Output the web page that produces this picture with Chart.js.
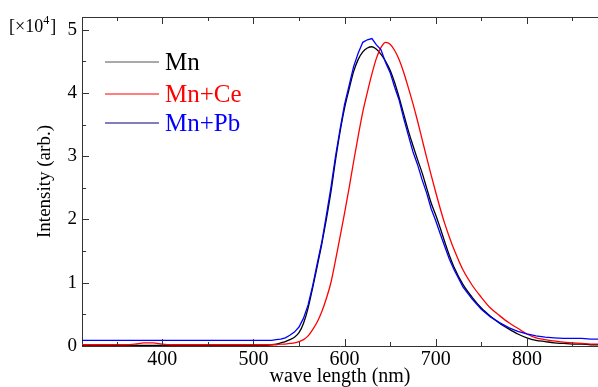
<!DOCTYPE html>
<html>
<head>
<meta charset="utf-8">
<script src="https://cdn.jsdelivr.net/npm/chart.js@4.4.1/dist/chart.umd.min.js"></script>
<style>
  body { margin: 0; background: #fff; }
  #chart { display: block; }
</style>
</head>
<body>
<canvas id="chart" width="598" height="387"></canvas>
<script>
// wave length (nm)
const wavelength = [
    310, 320, 330, 340, 350, 360, 370, 380, 390, 400, 410, 420, 430, 440, 450, 460, 470, 480, 490, 500, 510, 520,
    525, 530, 535, 540, 545, 550, 555, 560, 565, 570, 575, 580, 585, 590, 595, 600, 605, 610, 615, 620,
    625, 630, 635, 640, 645, 650, 655, 660, 665, 670, 675, 680, 685, 690, 695, 700, 705, 710, 715, 720,
    730, 740, 750, 760, 770, 780, 790, 800, 810, 820, 830, 840, 850, 860, 870, 880
];

// intensity, x10^4
const mn = [
    0.01, 0.01, 0.01, 0.01, 0.01, 0.01, 0.01, 0.01, 0.01, 0.01, 0.01, 0.01, 0.01, 0.01, 0.01, 0.01, 0.01, 0.01, 0.01, 0.01, 0.01, 0.02,
    0.03, 0.05, 0.07, 0.10, 0.14, 0.21, 0.36, 0.60, 0.92, 1.26, 1.61, 2.00, 2.43, 2.93, 3.38, 3.76, 4.06, 4.34, 4.53, 4.65,
    4.71, 4.73, 4.69, 4.61, 4.50, 4.36, 4.16, 3.92, 3.66, 3.40, 3.17, 2.95, 2.74, 2.50, 2.26, 2.07, 1.86, 1.64, 1.43, 1.25,
    0.97, 0.77, 0.60, 0.47, 0.36, 0.27, 0.19, 0.13, 0.09, 0.07, 0.05, 0.04, 0.03, 0.03, 0.02, 0.02
];

const mnCe = [
    0.02, 0.02, 0.02, 0.02, 0.02, 0.02, 0.03, 0.05, 0.05, 0.03, 0.02, 0.02, 0.02, 0.02, 0.02, 0.02, 0.02, 0.02, 0.02, 0.02, 0.02, 0.02,
    0.02, 0.03, 0.03, 0.04, 0.05, 0.07, 0.10, 0.16, 0.26, 0.38, 0.54, 0.75, 1.00, 1.35, 1.72, 2.10, 2.50, 2.92, 3.32, 3.70,
    4.01, 4.30, 4.55, 4.72, 4.80, 4.77, 4.67, 4.52, 4.32, 4.08, 3.83, 3.56, 3.27, 2.98, 2.70, 2.43, 2.17, 1.93, 1.72, 1.53,
    1.20, 0.96, 0.77, 0.60, 0.48, 0.37, 0.28, 0.19, 0.13, 0.10, 0.08, 0.06, 0.05, 0.04, 0.03, 0.03
];

const mnPb = [
    0.09, 0.09, 0.09, 0.09, 0.09, 0.09, 0.09, 0.09, 0.09, 0.09, 0.09, 0.09, 0.09, 0.09, 0.09, 0.09, 0.09, 0.09, 0.09, 0.09, 0.09, 0.09,
    0.10, 0.11, 0.13, 0.17, 0.22, 0.30, 0.44, 0.65, 0.95, 1.30, 1.64, 2.06, 2.50, 2.99, 3.42, 3.82, 4.12, 4.42, 4.63, 4.80,
    4.84, 4.86, 4.76, 4.68, 4.48, 4.32, 4.09, 3.88, 3.59, 3.33, 3.07, 2.87, 2.63, 2.42, 2.17, 1.98, 1.77, 1.57, 1.37, 1.21,
    0.93, 0.74, 0.58, 0.46, 0.37, 0.29, 0.23, 0.19, 0.16, 0.14, 0.13, 0.12, 0.12, 0.12, 0.11, 0.11
];

const xTicks = [400, 500, 600, 700, 800];
const yTicks = [0, 1, 2, 3, 4, 5];

const serif = '"Liberation Serif", "Times New Roman", serif';
const axisColor = '#333';

function toPoints(values) {
    return wavelength.map((w, i) => ({ x: w, y: values[i] }));
}

// inward ticks, top border, legend and the x10^4 mark
const decorations = {
    id: 'decorations',
    afterDraw(chart) {
        const ctx = chart.ctx;
        const area = chart.chartArea;
        const xs = chart.scales.x;
        const ys = chart.scales.y;

        ctx.save();
        ctx.strokeStyle = axisColor;
        ctx.lineWidth = 1;

        // top border
        ctx.beginPath();
        ctx.moveTo(area.left, area.top + 0.5);
        ctx.lineTo(area.right, area.top + 0.5);
        ctx.stroke();

        // x ticks (bottom and top)
        for (let v = 350; v <= xs.max; v += 50) {
            const px = Math.round(xs.getPixelForValue(v)) + 0.5;
            const len = v % 100 === 0 ? 7 : 4;
            ctx.beginPath();
            ctx.moveTo(px, area.bottom);
            ctx.lineTo(px, area.bottom - len);
            ctx.moveTo(px, area.top);
            ctx.lineTo(px, area.top + len);
            ctx.stroke();
        }

        // y ticks
        for (let v = 0.5; v <= ys.max; v += 0.5) {
            const py = Math.round(ys.getPixelForValue(v)) + 0.5;
            const len = v % 1 === 0 ? 7 : 4;
            ctx.beginPath();
            ctx.moveTo(area.left, py);
            ctx.lineTo(area.left + len, py);
            ctx.stroke();
        }

        // legend
        const items = [
            { label: 'Mn', line: '#555', text: '#000', y: 62 },
            { label: 'Mn+Ce', line: '#ff0000', text: '#ff0000', y: 94 },
            { label: 'Mn+Pb', line: '#000080', text: '#0000ff', y: 123 }
        ];
        ctx.font = '25px ' + serif;
        ctx.textBaseline = 'middle';
        ctx.textAlign = 'left';
        items.forEach(item => {
            ctx.strokeStyle = item.line;
            ctx.lineWidth = 1.2;
            ctx.beginPath();
            ctx.moveTo(105, item.y);
            ctx.lineTo(159, item.y);
            ctx.stroke();
            ctx.fillStyle = item.text;
            ctx.fillText(item.label, 165, item.y + 1);
        });

        // [x10^4]
        ctx.fillStyle = '#000';
        ctx.textBaseline = 'alphabetic';
        ctx.font = '18px ' + serif;
        ctx.fillText('[\u00d710', 9, 32);
        let w = ctx.measureText('[\u00d710').width;
        ctx.font = '12px ' + serif;
        ctx.fillText('4', 9 + w, 24);
        let w2 = ctx.measureText('4').width;
        ctx.font = '18px ' + serif;
        ctx.fillText(']', 9 + w + w2 + 1, 32);

        ctx.restore();
    }
};

const ctx = document.getElementById('chart').getContext('2d');
const chart = new Chart(ctx, {
    type: 'line',
    data: {
        datasets: [
            {
                label: 'Mn',
                data: toPoints(mn),
                borderColor: '#000000',
                borderWidth: 1.3,
                cubicInterpolationMode: 'monotone',
                order: 2
            },
            {
                label: 'Mn+Ce',
                data: toPoints(mnCe),
                borderColor: '#ff0000',
                borderWidth: 1.3,
                cubicInterpolationMode: 'monotone',
                order: 1
            },
            {
                label: 'Mn+Pb',
                data: toPoints(mnPb),
                borderColor: '#0000ff',
                borderWidth: 1.3,
                order: 0
            }
        ]
    },
    options: {
        responsive: false,
        animation: false,
        devicePixelRatio: 1,
        layout: { padding: { top: 17, left: 0, right: 0, bottom: 0 } },
        elements: {
            point: { radius: 0 },
            line: { tension: 0 }
        },
        plugins: {
            legend: { display: false },
            tooltip: { enabled: false }
        },
        scales: {
            x: {
                type: 'linear',
                min: 312,
                max: 878,
                afterBuildTicks: scale => {
                    scale.ticks = xTicks.map(v => ({ value: v }));
                },
                afterFit: scale => { scale.height = 41; },
                grid: { display: true, drawOnChartArea: false, drawTicks: false },
                border: { display: true, color: axisColor, width: 1 },
                ticks: {
                    padding: 2,
                    color: '#000',
                    font: { family: serif, size: 20 },
                    maxRotation: 0
                },
                title: {
                    display: true,
                    text: 'wave length (nm)',
                    color: '#000',
                    font: { family: serif, size: 20, lineHeight: 1 },
                    padding: { top: 0, bottom: 0 }
                }
            },
            y: {
                type: 'linear',
                min: 0,
                max: 5.2,
                afterBuildTicks: scale => {
                    scale.ticks = yTicks.map(v => ({ value: v }));
                },
                afterFit: scale => { scale.width = 82; },
                grid: { display: true, drawOnChartArea: false, drawTicks: false },
                border: { display: true, color: axisColor, width: 1 },
                ticks: {
                    padding: 5,
                    color: '#000',
                    font: { family: serif, size: 19 }
                },
                title: {
                    display: true,
                    text: 'Intensity (arb.)',
                    color: '#000',
                    font: { family: serif, size: 19, lineHeight: 1 },
                    padding: { top: 36, bottom: 0 }
                }
            }
        }
    },
    plugins: [decorations]
});
</script>
</body>
</html>
